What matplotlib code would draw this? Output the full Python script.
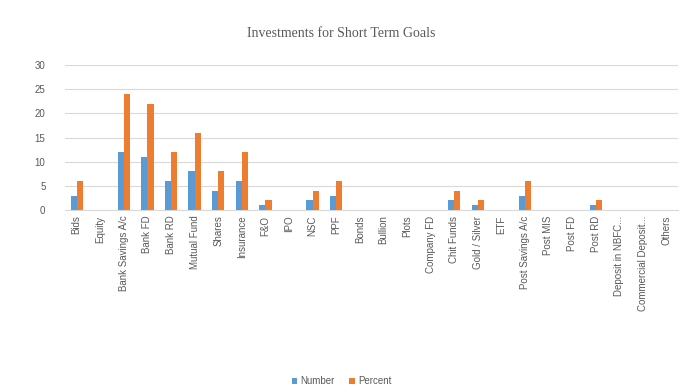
import matplotlib.pyplot as plt
import numpy as np

categories = ["Bids", "Equity", "Bank Savings A/c", "Bank FD", "Bank RD",
              "Mutual Fund", "Shares", "Insurance", "F&O", "IPO", "NSC", "PPF",
              "Bonds", "Bullion", "Plots", "Company FD", "Chit Funds",
              "Gold / Silver", "ETF", "Post Savings A/c", "Post MIS", "Post FD",
              "Post RD", "Deposit in NBFC...", "Commercial Deposit...", "Others"]
number = [3, 0, 12, 11, 6, 8, 4, 6, 1, 0, 2, 3, 0, 0, 0, 0, 2, 1, 0, 3, 0, 0, 1, 0, 0, 0]
percent = [6, 0, 24, 22, 12, 16, 8, 12, 2, 0, 4, 6, 0, 0, 0, 0, 4, 2, 0, 6, 0, 0, 2, 0, 0, 0]

text_color = "#595959"
plt.rcParams['font.family'] = ['Liberation Sans', 'DejaVu Sans']

fig = plt.figure(figsize=(6.83, 3.9), dpi=100)
ax = fig.add_axes([0.095, 0.4615, 0.898, 0.3718])

x = np.arange(len(categories))
w = 0.26
ax.bar(x - w / 2, number, w, color="#5B9BD5", label="Number", zorder=3)
ax.bar(x + w / 2, percent, w, color="#ED7D31", label="Percent", zorder=3)

ax.set_xlim(-0.5, len(categories) - 0.5)
ax.set_ylim(0, 30)
ax.set_yticks(range(0, 31, 5))
ax.yaxis.grid(True, color="#d9d9d9", linewidth=0.8, zorder=0)
ax.set_xticks(x)
ax.set_xticklabels(categories, rotation=90, fontsize=7, color=text_color)
ax.tick_params(axis="y", labelsize=7, labelcolor=text_color, length=0, pad=14)
ax.tick_params(axis="x", length=0, pad=4)

for side in ["top", "right", "left"]:
    ax.spines[side].set_visible(False)
ax.spines["bottom"].set_color("#d9d9d9")

fig.suptitle("Investments for Short Term Goals", y=0.93, fontsize=10,
             color=text_color, family="Liberation Serif")
fig.legend(loc="center", bbox_to_anchor=(0.5, 0.023), ncol=2, frameon=False,
           fontsize=7, labelcolor=text_color, handlelength=0.6, handleheight=0.6,
           columnspacing=1.5, handletextpad=0.3)

fig.savefig("out.png", dpi=100, facecolor="white")
